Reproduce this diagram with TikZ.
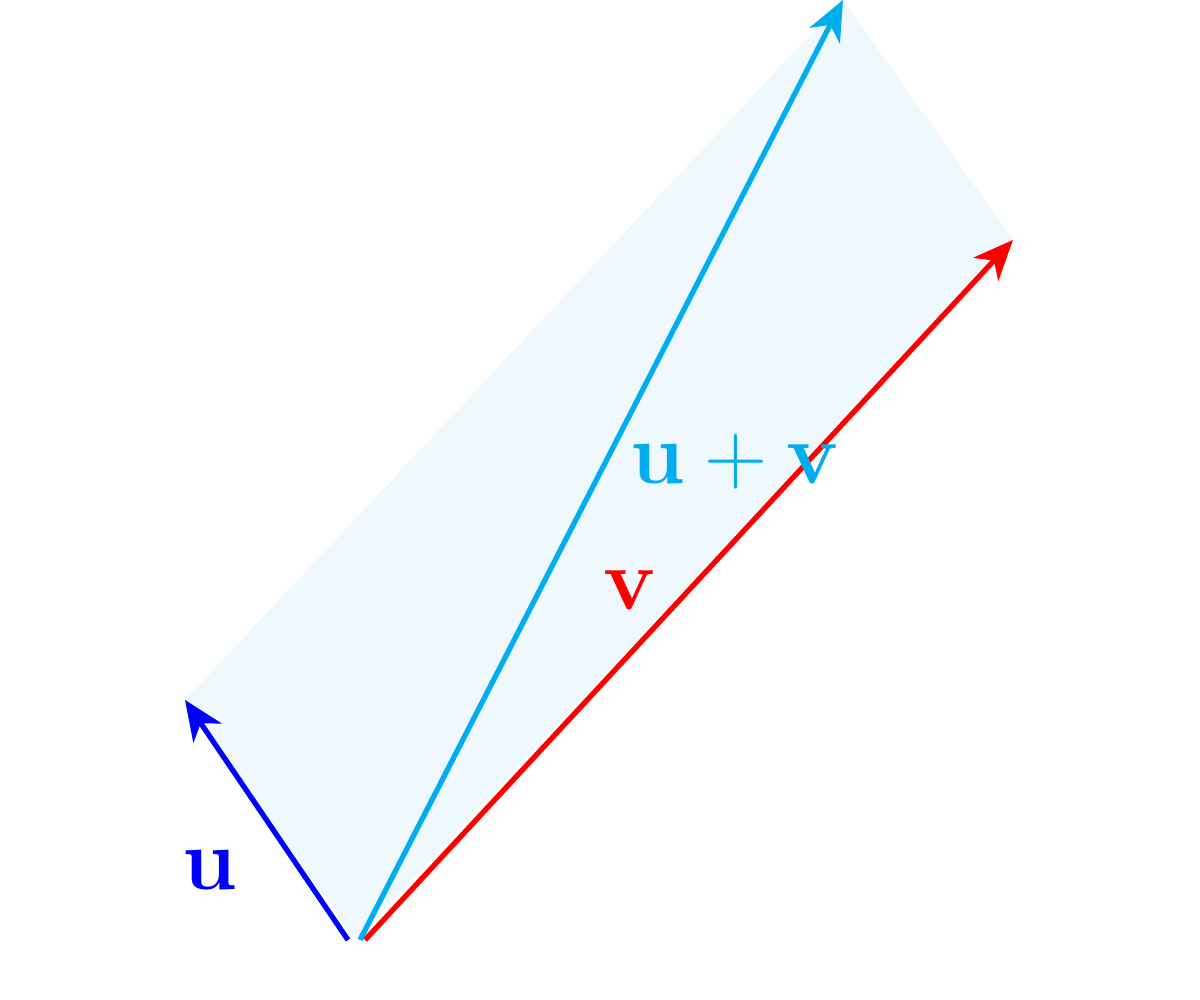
\documentclass[tikz,border=0pt]{standalone}
\usetikzlibrary{arrows.meta}
\definecolor{sumcol}{RGB}{0,174,239}
\definecolor{areacol}{RGB}{239,248,253}
\tikzset{vec/.style = {line width=1.5pt, -{Stealth[length=4mm,width=3.4mm,inset=1.2mm]}},
           lab/.style = {font=\fontsize{28}{32}\selectfont, inner sep=0pt}}
\begin{document}
\begin{tikzpicture}[>=stealth]
    \useasboundingbox (0,0) rectangle (12,10);
    \coordinate (o) at (3.55,0.6);
    \coordinate (ou) at (3.48,0.6);
    \coordinate (ow) at (3.6,0.6);
    \coordinate (ov) at (3.65,0.6);
    \coordinate (u) at (1.85,3.0);
    \coordinate (v) at (10.13,7.6);
    \coordinate (w) at (8.43,10.0);
    \fill[areacol] (o) -- (u) -- (w) -- (v) -- cycle;
    \draw[vec, blue] (ou) -- (u);
    \draw[vec, red] (ov) -- (v);
    \draw[vec, sumcol] (ow) -- (w);
    \node[lab, text=blue] (ul) at (2.1,1.3) {$\mathbf{u}$};
    \node[lab, text=red] (vl) at (6.3,4.1) {$\mathbf{v}$};
    \node[lab, text=sumcol] (wl) at (7.35,5.38) {$\mathbf{u}+\mathbf{v}$};
\end{tikzpicture}
\end{document}
